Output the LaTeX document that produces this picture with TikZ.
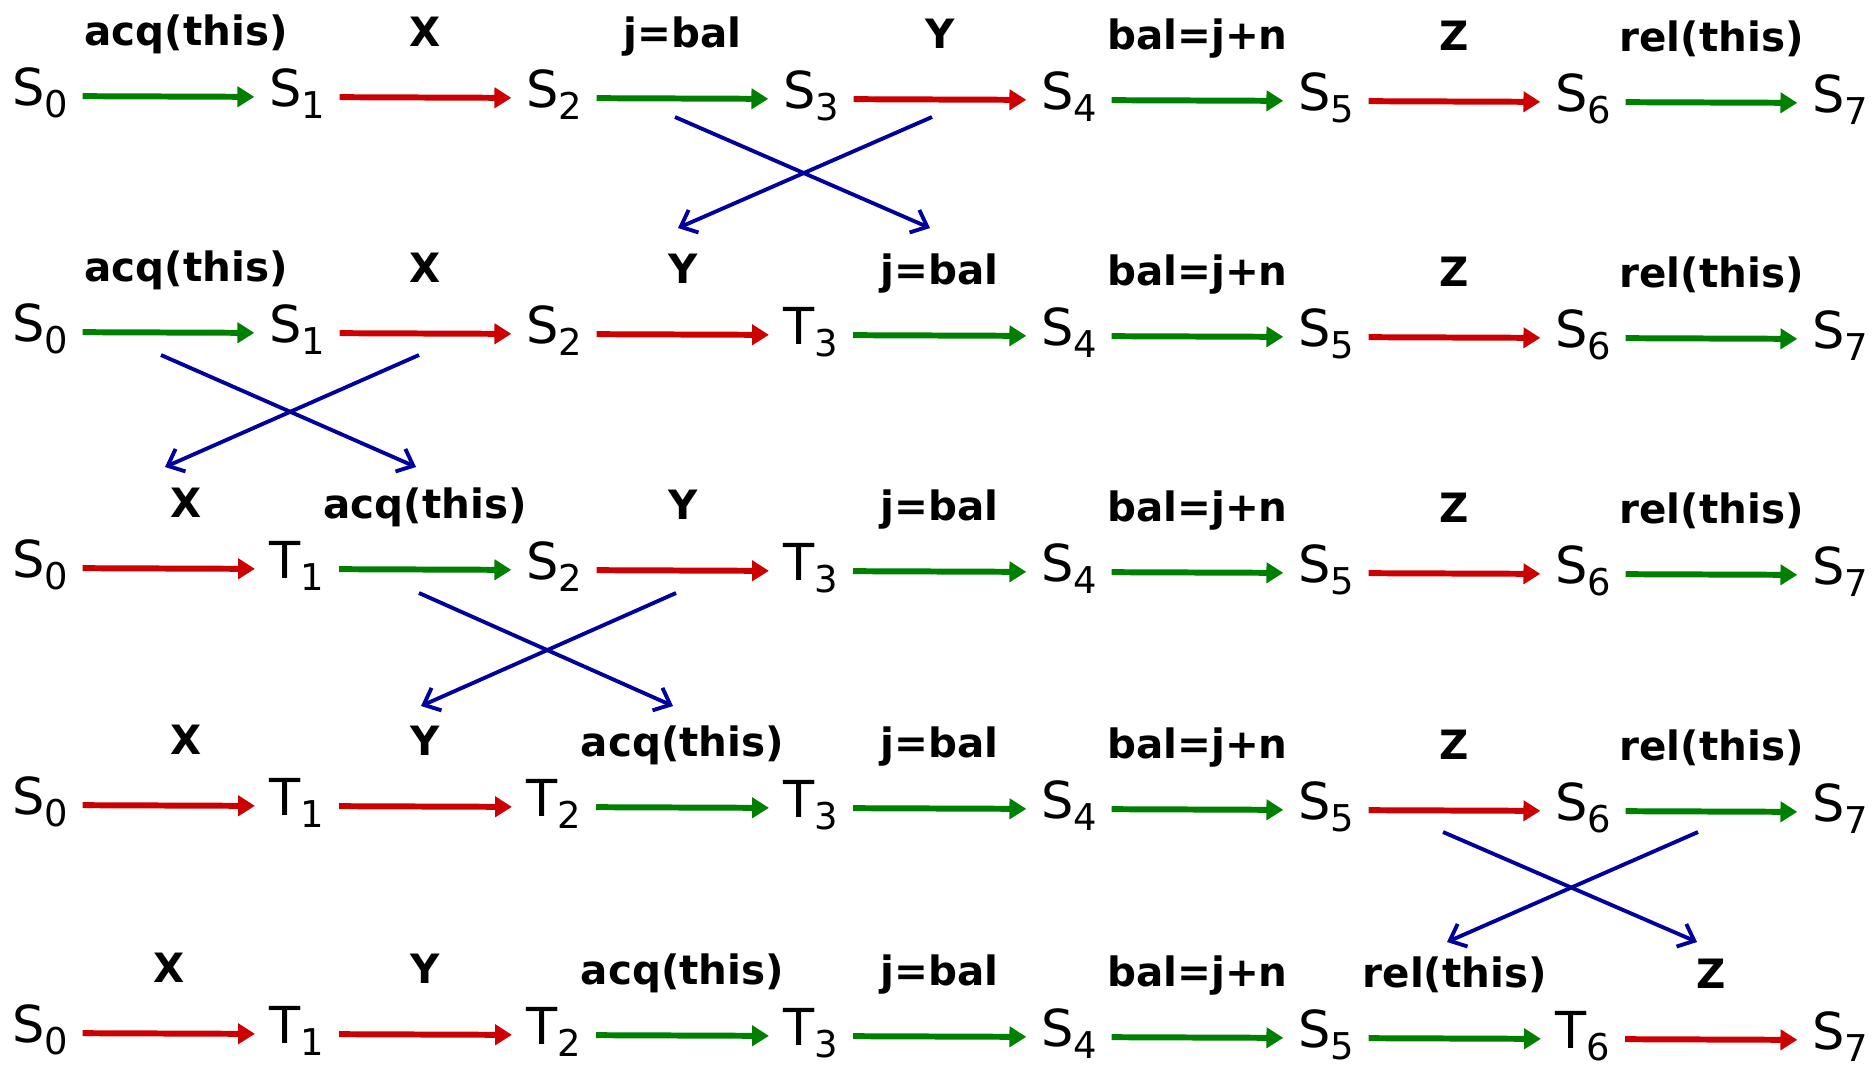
\documentclass[tikz,border=0pt]{standalone}
\usepackage{fontspec}
\setmainfont{DejaVu Sans}
\usetikzlibrary{arrows.meta}
\definecolor{TrGreen}{HTML}{008000}
\definecolor{TrRed}{HTML}{CC0000}
\definecolor{TrBlue}{HTML}{00009F}
\newcommand{\stname}[2]{#1\raisebox{-3.4pt}{\fontsize{10.5}{10.5}\selectfont #2}}

\begin{document}
\begin{tikzpicture}[x=0.1mm,y=-0.1mm,
  state/.style={inner xsep=4pt,inner ysep=0pt,text height=10pt,text depth=4.6pt,font=\fontsize{14.5}{14.5}\selectfont},
  lbl/.style={anchor=base,yshift=14.5pt,text=black,font=\fontsize{11.5}{11.5}\selectfont\bfseries},
  grnarr/.style={TrGreen,line width=1.7pt,-{Triangle[length=4.8pt,width=5.7pt]}},
  redarr/.style={TrRed,line width=1.7pt,-{Triangle[length=4.8pt,width=5.7pt]}},
  swaparr/.style={TrBlue,line width=1.1pt,-{Straight Barb[length=4pt,width=7pt]}}]
\path[use as bounding box] (0,0) rectangle (1875,1066);
% row 1
\node[state] (a0) at (40,96) {\stname{S}{0}};
\node[state] (a1) at (297,97) {\stname{S}{1}};
\node[state] (a2) at (554,98) {\stname{S}{2}};
\node[state] (a3) at (811,99) {\stname{S}{3}};
\node[state] (a4) at (1069,100) {\stname{S}{4}};
\node[state] (a5) at (1326,101) {\stname{S}{5}};
\node[state] (a6) at (1583,102) {\stname{S}{6}};
\node[state] (a7) at (1840,103) {\stname{S}{7}};
\draw[grnarr] (a0) -- node[lbl,xshift=5pt] {acq(this)} (a1);
\draw[redarr] (a1) -- node[lbl] {X} (a2);
\draw[grnarr] (a2) -- node[lbl] {j=bal} (a3);
\draw[redarr] (a3) -- node[lbl] {Y} (a4);
\draw[grnarr] (a4) -- node[lbl] {bal=j+n} (a5);
\draw[redarr] (a5) -- node[lbl] {Z} (a6);
\draw[grnarr] (a6) -- node[lbl] {rel(this)} (a7);
% row 2
\node[state] (b0) at (40,332) {\stname{S}{0}};
\node[state] (b1) at (297,333) {\stname{S}{1}};
\node[state] (b2) at (554,334) {\stname{S}{2}};
\node[state] (b3) at (811,335) {\stname{T}{3}};
\node[state] (b4) at (1069,336) {\stname{S}{4}};
\node[state] (b5) at (1326,337) {\stname{S}{5}};
\node[state] (b6) at (1583,338) {\stname{S}{6}};
\node[state] (b7) at (1840,339) {\stname{S}{7}};
\draw[grnarr] (b0) -- node[lbl,xshift=5pt] {acq(this)} (b1);
\draw[redarr] (b1) -- node[lbl] {X} (b2);
\draw[redarr] (b2) -- node[lbl] {Y} (b3);
\draw[grnarr] (b3) -- node[lbl] {j=bal} (b4);
\draw[grnarr] (b4) -- node[lbl] {bal=j+n} (b5);
\draw[redarr] (b5) -- node[lbl] {Z} (b6);
\draw[grnarr] (b6) -- node[lbl] {rel(this)} (b7);
% row 3
\node[state] (c0) at (40,568) {\stname{S}{0}};
\node[state] (c1) at (297,569) {\stname{T}{1}};
\node[state] (c2) at (554,570) {\stname{S}{2}};
\node[state] (c3) at (811,571) {\stname{T}{3}};
\node[state] (c4) at (1069,572) {\stname{S}{4}};
\node[state] (c5) at (1326,573) {\stname{S}{5}};
\node[state] (c6) at (1583,574) {\stname{S}{6}};
\node[state] (c7) at (1840,575) {\stname{S}{7}};
\draw[redarr] (c0) -- node[lbl,xshift=5pt] {X} (c1);
\draw[grnarr] (c1) -- node[lbl] {acq(this)} (c2);
\draw[redarr] (c2) -- node[lbl] {Y} (c3);
\draw[grnarr] (c3) -- node[lbl] {j=bal} (c4);
\draw[grnarr] (c4) -- node[lbl] {bal=j+n} (c5);
\draw[redarr] (c5) -- node[lbl] {Z} (c6);
\draw[grnarr] (c6) -- node[lbl] {rel(this)} (c7);
% row 4
\node[state] (d0) at (40,805) {\stname{S}{0}};
\node[state] (d1) at (297,806) {\stname{T}{1}};
\node[state] (d2) at (554,807) {\stname{T}{2}};
\node[state] (d3) at (811,808) {\stname{T}{3}};
\node[state] (d4) at (1069,809) {\stname{S}{4}};
\node[state] (d5) at (1326,810) {\stname{S}{5}};
\node[state] (d6) at (1583,811) {\stname{S}{6}};
\node[state] (d7) at (1840,812) {\stname{S}{7}};
\draw[redarr] (d0) -- node[lbl,xshift=5pt] {X} (d1);
\draw[redarr] (d1) -- node[lbl] {Y} (d2);
\draw[grnarr] (d2) -- node[lbl] {acq(this)} (d3);
\draw[grnarr] (d3) -- node[lbl] {j=bal} (d4);
\draw[grnarr] (d4) -- node[lbl] {bal=j+n} (d5);
\draw[redarr] (d5) -- node[lbl] {Z} (d6);
\draw[grnarr] (d6) -- node[lbl] {rel(this)} (d7);
% row 5
\node[state] (e0) at (40,1033) {\stname{S}{0}};
\node[state] (e1) at (297,1034) {\stname{T}{1}};
\node[state] (e2) at (554,1035) {\stname{T}{2}};
\node[state] (e3) at (811,1036) {\stname{T}{3}};
\node[state] (e4) at (1069,1037) {\stname{S}{4}};
\node[state] (e5) at (1326,1038) {\stname{S}{5}};
\node[state] (e6) at (1583,1039) {\stname{T}{6}};
\node[state] (e7) at (1840,1040) {\stname{S}{7}};
\draw[redarr] (e0) -- node[lbl] {X} (e1);
\draw[redarr] (e1) -- node[lbl] {Y} (e2);
\draw[grnarr] (e2) -- node[lbl] {acq(this)} (e3);
\draw[grnarr] (e3) -- node[lbl] {j=bal} (e4);
\draw[grnarr] (e4) -- node[lbl] {bal=j+n} (e5);
\draw[grnarr] (e5) -- node[lbl] {rel(this)} (e6);
\draw[redarr] (e6) -- node[lbl] {Z} (e7);
% swaps
\coordinate (x1a) at (675,117);
\coordinate (x1b) at (932,117);
\coordinate (x1c) at (678,228);
\coordinate (x1d) at (930,228);
\draw[swaparr] (x1a) -- (x1d);
\draw[swaparr] (x1b) -- (x1c);
\coordinate (x2a) at (161,355);
\coordinate (x2b) at (419,355);
\coordinate (x2c) at (165,467);
\coordinate (x2d) at (416,467);
\draw[swaparr] (x2a) -- (x2d);
\draw[swaparr] (x2b) -- (x2c);
\coordinate (x3a) at (419,593);
\coordinate (x3b) at (676,593);
\coordinate (x3c) at (421,706);
\coordinate (x3d) at (673,706);
\draw[swaparr] (x3a) -- (x3d);
\draw[swaparr] (x3b) -- (x3c);
\coordinate (x4a) at (1443,832);
\coordinate (x4b) at (1698,832);
\coordinate (x4c) at (1447,942);
\coordinate (x4d) at (1697,942);
\draw[swaparr] (x4a) -- (x4d);
\draw[swaparr] (x4b) -- (x4c);
\end{tikzpicture}
\end{document}
